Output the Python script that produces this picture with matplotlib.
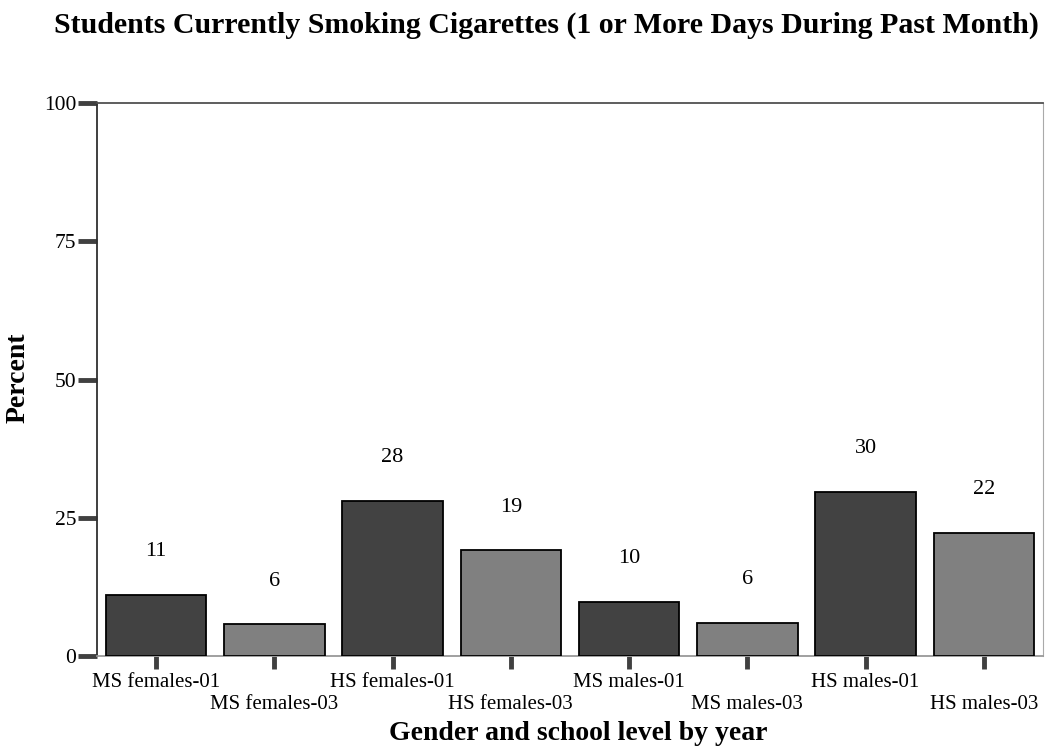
import matplotlib
matplotlib.use('Agg')
import matplotlib.pyplot as plt

plt.rcParams['font.family'] = ['Liberation Serif', 'DejaVu Serif']

# Smoking rates by group
groups = ['MS females-01', 'MS females-03', 'HS females-01', 'HS females-03',
          'MS males-01', 'MS males-03', 'HS males-01', 'HS males-03']
percent = [11.0, 5.7, 28.0, 19.1, 9.8, 6.0, 29.6, 22.3]
bar_colors = ['#424242', '#808080'] * 4

fig = plt.figure(figsize=(10.58, 7.53), dpi=100)
ax = fig.add_axes([0.0917, 0.1288, 0.894, 0.7344])

x = range(len(groups))
bars = ax.bar(x, percent, width=0.85, color=bar_colors, edgecolor='black',
              linewidth=1.3, zorder=3)

# value labels float above each bar
for xi, v in zip(x, percent):
    ax.annotate(f'{v:.0f}', (xi, v), xytext=(0, 28), textcoords='offset points',
                ha='center', va='baseline', fontsize=16)

ax.set_xlim(-0.5, len(groups) - 0.5)
ax.set_ylim(0, 100)
ax.set_yticks([0, 25, 50, 75, 100])
ax.set_xticks(list(x))
# staggered category labels
ax.set_xticklabels([g if i % 2 == 0 else '\n' + g for i, g in enumerate(groups)],
                   fontsize=15, linespacing=1.25)

ax.tick_params(axis='y', length=14, width=3.5, color='#404040', labelsize=15.5, pad=1)
ax.tick_params(axis='x', length=9, width=3.5, color='#404040', pad=3)

ax.spines['left'].set_color('#303030')
ax.spines['left'].set_linewidth(1.3)
ax.spines['top'].set_color('#505050')
ax.spines['top'].set_linewidth(1.3)
ax.spines['right'].set_color('#aaaaaa')
ax.spines['bottom'].set_color('#999999')
ax.spines['bottom'].set_linewidth(1.3)

fig.text(0.017, 0.499, 'Percent', rotation=90, ha='center', va='center',
         fontsize=20, fontweight='bold')
fig.text(0.547, 0.0173, 'Gender and school level by year', ha='center', va='baseline',
         fontsize=20, fontweight='bold')
fig.text(0.5165, 0.956,
         'Students Currently Smoking Cigarettes (1 or More Days During Past Month)',
         ha='center', va='baseline', fontsize=21.5, fontweight='bold')

fig.savefig('out.png', dpi=100)
